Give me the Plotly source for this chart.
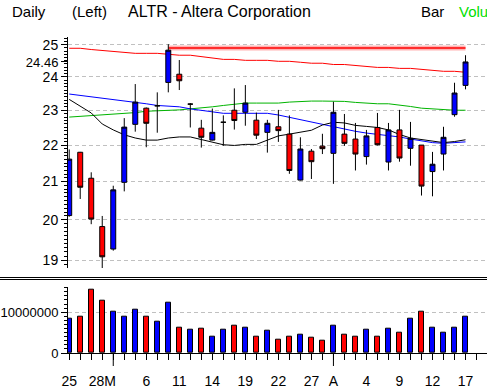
import numpy as np
import plotly.graph_objects as go

# ---------------- data ----------------
dates = ["02-25", "02-26", "02-27", "02-28", "03-01", "03-04", "03-05", "03-06", "03-07", "03-08",
         "03-11", "03-12", "03-13", "03-14", "03-15", "03-18", "03-19", "03-20", "03-21", "03-22",
         "03-25", "03-26", "03-27", "03-28", "04-01", "04-02", "04-03", "04-04", "04-05", "04-08",
         "04-09", "04-10", "04-11", "04-12", "04-15", "04-16", "04-17"]
open_ = [20.11, 21.80, 21.09, 19.83, 19.27, 20.98, 22.59, 23.06, 23.13, 23.83,
         24.08, 23.18, 22.48, 22.14, 22.65, 23.00, 22.94, 22.71, 22.36, 22.52,
         22.31, 21.04, 21.83, 21.97, 21.77, 22.31, 22.17, 21.68, 22.50, 21.53,
         22.43, 21.91, 22.00, 21.27, 21.75, 22.87, 23.74]
high = [21.88, 21.81, 21.25, 20.10, 20.89, 22.77, 23.78, 23.08, 23.53, 25.02,
        24.52, 23.21, 22.72, 23.05, 22.85, 23.65, 23.75, 22.93, 22.72, 23.01,
        22.85, 22.22, 21.89, 22.32, 23.25, 22.89, 22.63, 22.43, 22.92, 22.63,
        23.01, 22.66, 22.00, 21.81, 22.52, 23.82, 24.67]
low = [20.08, 20.54, 19.89, 18.81, 19.23, 20.74, 22.38, 21.94, 22.35, 23.53,
       23.60, 22.50, 21.93, 22.13, 21.98, 22.44, 22.55, 22.17, 21.79, 22.09,
       21.21, 21.03, 21.07, 21.75, 20.94, 21.98, 21.30, 21.46, 21.99, 21.30,
       21.54, 21.43, 20.63, 20.61, 21.30, 22.81, 23.62]
close = [21.61, 20.85, 20.02, 19.08, 20.78, 22.51, 23.24, 22.62, 23.13, 24.83,
         23.88, 23.18, 22.22, 22.36, 22.65, 22.70, 23.21, 22.28, 22.62, 22.41,
         21.30, 21.89, 21.54, 21.90, 22.94, 22.05, 21.75, 22.26, 22.01, 22.43,
         21.64, 22.19, 20.88, 21.47, 22.22, 23.51, 24.46]
volume = [8.5e6, 9.0e6, 15.4e6, 12.7e6, 10.0e6, 9.0e6, 10.7e6, 9.0e6, 7.6e6, 12.2e6,
          6.3e6, 5.6e6, 5.85e6, 4.1e6, 5.6e6, 6.8e6, 6.1e6, 4.1e6, 5.4e6, 3.2e6,
          3.9e6, 4.4e6, 3.7e6, 2.9e6, 6.6e6, 4.6e6, 3.9e6, 5.6e6, 4.1e6, 5.85e6,
          4.9e6, 8.5e6, 10.2e6, 6.3e6, 4.9e6, 6.1e6, 9.0e6]
ma_red = [24.89, 24.89, 24.85, 24.82, 24.79, 24.76, 24.73, 24.73, 24.73, 24.70,
          24.67, 24.67, 24.62, 24.57, 24.54, 24.54, 24.51, 24.51, 24.51, 24.48,
          24.48, 24.45, 24.42, 24.42, 24.38, 24.38, 24.35, 24.32, 24.29, 24.29,
          24.26, 24.26, 24.23, 24.20, 24.17, 24.17, 24.14]
ma_blue = [23.48, 23.44, 23.41, 23.36, 23.32, 23.27, 23.23, 23.19, 23.14, 23.11,
           23.10, 23.04, 22.99, 22.95, 22.91, 22.91, 22.91, 22.91, 22.91, 22.86,
           22.79, 22.73, 22.66, 22.59, 22.52, 22.45, 22.39, 22.34, 22.31, 22.27,
           22.23, 22.17, 22.12, 22.07, 22.05, 22.06, 22.09]
ma_green = [22.80, 22.82, 22.84, 22.86, 22.88, 22.91, 22.93, 22.97, 22.98, 22.99,
            23.01, 23.04, 23.06, 23.10, 23.14, 23.18, 23.21, 23.21, 23.21, 23.21,
            23.24, 23.26, 23.27, 23.27, 23.27, 23.26, 23.23, 23.20, 23.19, 23.19,
            23.16, 23.11, 23.06, 23.04, 23.00, 23.00, 23.00]
ma_black = [23.32, 23.13, 22.92, 22.60, 22.43, 22.29, 22.20, 22.14, 22.14, 22.20,
            22.23, 22.23, 22.16, 22.09, 22.01, 21.99, 22.02, 22.02, 22.14, 22.26,
            22.31, 22.36, 22.42, 22.57, 22.65, 22.63, 22.56, 22.53, 22.50, 22.43,
            22.30, 22.20, 22.16, 22.10, 22.07, 22.10, 22.15]
tick_dates = ["02-25", "02-28", "03-06", "03-11", "03-14", "03-19", "03-22", "03-27",
              "04-01", "04-04", "04-09", "04-12", "04-17"]
tick_labels = ["25", "28M", "6", "11", "14", "19", "22", "27", "A", "4", "9", "12", "17"]
month_starts = ["03-01", "04-01"]
price_ticks = [19, 20, 21, 22, 23, 24, 25]
volume_ticks = [0, 10000000]
resistance_level = 24.9
resistance_dates = ["03-08", "04-17"]

# ---------------- layout helpers ----------------
W, H = 487, 390
L, R, T, B = 68, 0, 37, 37
PW, PH = W - L - R, H - T - B


def py(px):
    return (H - B - px) / PH


def pxp(px):
    return (px - L) / PW


SANS = "Liberation Sans, Arial, sans-serif"
GRID = "#c0c0c0"

idx = list(range(len(dates)))
pos = {d: i for i, d in enumerate(dates)}
vol_colors = ["#0000ff" if c >= o else "#ff0000" for o, c in zip(open_, close)]
XR = [-0.11, 37.95]

fig = go.Figure()

# moving averages (under candles)
for ma, col in [(ma_red, "#ff0000"), (ma_green, "#00b400"), (ma_blue, "#0000ff"), (ma_black, "#000000")]:
    fig.add_trace(go.Scatter(x=idx, y=ma, mode="lines", line=dict(color=col, width=1),
                             xaxis="x", yaxis="y", showlegend=False, hoverinfo="skip"))

# resistance line with glow
rx = [pos[d] for d in resistance_dates]
fig.add_trace(go.Scatter(x=rx, y=[resistance_level] * 2, mode="lines",
                         line=dict(color="rgba(255,0,0,0.3)", width=5),
                         xaxis="x", yaxis="y", showlegend=False, hoverinfo="skip"))
fig.add_trace(go.Scatter(x=rx, y=[resistance_level] * 2, mode="lines",
                         line=dict(color="#ff0000", width=1.5),
                         xaxis="x", yaxis="y", showlegend=False, hoverinfo="skip"))

# candles on overlaying axis so they are drawn above the lines
fig.add_trace(go.Candlestick(
    x=idx, open=open_, high=high, low=low, close=close,
    increasing=dict(line=dict(color="black", width=1), fillcolor="#0000ff"),
    decreasing=dict(line=dict(color="black", width=1), fillcolor="#ff0000"),
    whiskerwidth=0, xaxis="x", yaxis="y3", showlegend=False, hoverinfo="skip"))

# volume
fig.add_trace(go.Bar(x=idx, y=volume, marker=dict(color=vol_colors, line=dict(color="black", width=1)),
                     width=0.45, xaxis="x2", yaxis="y2", showlegend=False, hoverinfo="skip"))

yr = [np.log10(18.81), np.log10(25.25)]
minor_vals = [round(v, 1) for v in np.arange(18.9, 25.3, 0.1)]
YFONT = dict(family=SANS, size=14, color="black")

fig.update_layout(
    width=W, height=H, margin=dict(l=L, r=R, t=T, b=B, autoexpand=False),
    paper_bgcolor="white", plot_bgcolor="white",
    boxgap=0.55, boxgroupgap=0, bargap=0,
    xaxis=dict(domain=[0, 1], range=XR, anchor="y", showticklabels=False, ticks="",
               showgrid=False, zeroline=False, showline=False, automargin=False,
               rangeslider=dict(visible=False), fixedrange=True),
    yaxis=dict(domain=[py(268), 1], type="log", range=yr, anchor="x", automargin=False,
               tickmode="array", tickvals=price_ticks, ticktext=[str(v) for v in price_ticks],
               ticks="outside", ticklen=6, tickcolor="black", tickwidth=1,
               showline=True, linecolor="black", linewidth=1,
               showgrid=True, gridcolor=GRID, griddash="4px,3px", gridwidth=1,
               zeroline=False,
               minor=dict(tickmode="array", tickvals=minor_vals, ticks="outside", ticklen=3,
                          tickcolor="black", showgrid=False),
               tickfont=YFONT, fixedrange=True),
    yaxis3=dict(overlaying="y", type="log", range=yr, anchor="x", side="left", automargin=False,
                tickmode="array", tickvals=[close[-1]], ticktext=[f"{close[-1]:.2f}"],
                ticks="outside", ticklen=6, tickcolor="black",
                showgrid=False, showline=False, zeroline=False,
                tickfont=dict(family=SANS, size=13, color="black"), fixedrange=True),
    xaxis2=dict(domain=[0, 1], range=XR, anchor="y2", automargin=False,
                tickmode="array", tickvals=[pos[d] for d in tick_dates], ticktext=tick_labels,
                ticks="outside", ticklen=6, tickcolor="black", ticklabelstandoff=9,
                minor=dict(dtick=1, tick0=0, ticks="outside", ticklen=6, tickcolor="black", showgrid=False),
                showline=True, linecolor="black", linewidth=1, showgrid=False, zeroline=False,
                tickfont=dict(family=SANS, size=14, color="black"), fixedrange=True),
    yaxis2=dict(domain=[0, py(286.7)], range=[0, 16.24e6], anchor="x2", automargin=False,
                tickmode="array", tickvals=volume_ticks, ticktext=[str(v) for v in volume_ticks],
                ticks="outside", ticklen=6, tickcolor="black",
                minor=dict(dtick=1e6, tick0=0, ticks="outside", ticklen=3, tickcolor="black", showgrid=False),
                showline=True, linecolor="black", linewidth=1,
                showgrid=True, gridcolor=GRID, griddash="4px,3px", zeroline=False,
                tickfont=dict(family=SANS, size=13, color="black"), fixedrange=True),
)

shapes = []
for ypix in (277.5, 279.5):
    shapes.append(dict(type="line", xref="paper", yref="paper", x0=pxp(0), x1=1, y0=py(ypix), y1=py(ypix),
                       line=dict(color="black", width=1)))
for d in month_starts:
    shapes.append(dict(type="line", xref="x2", yref="paper", x0=pos[d], x1=pos[d], y0=0, y1=py(366),
                       line=dict(color="black", width=1)))
fig.update_layout(shapes=shapes)

title_parts = [("Daily", 10, "black", 15), ("(Left)", 70, "black", 15),
               ("ALTR - Altera Corporation", 126, "black", 16),
               ("Bar", 419, "black", 15), ("Volu", 457, "#00e000", 15)]
for text, xp, col, fs in title_parts:
    fig.add_annotation(text=text, xref="paper", yref="paper", x=pxp(xp), y=py(11),
                       xanchor="left", yanchor="middle", showarrow=False,
                       font=dict(family=SANS, size=fs, color=col))

fig.write_html("out.html")
